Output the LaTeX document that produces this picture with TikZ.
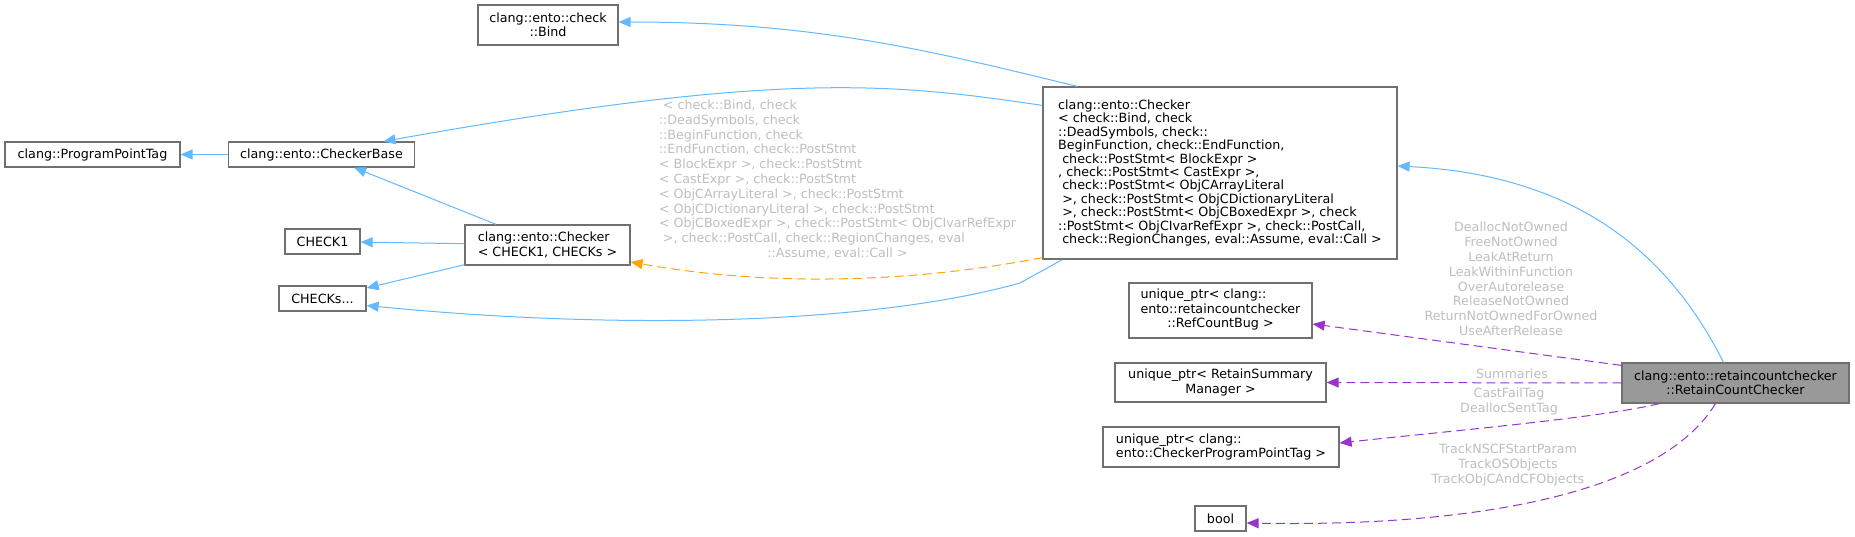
\documentclass[tikz,border=0pt]{standalone}
\usepackage{fontspec}
\setmainfont{DejaVu Sans}
\usetikzlibrary{arrows.meta,positioning,calc}
\definecolor{boxgray}{HTML}{707070}
\definecolor{curgray}{HTML}{999999}
\definecolor{inhblue}{HTML}{63B8FF}
\definecolor{usepurple}{HTML}{9A32CD}
\definecolor{tmplorange}{HTML}{FFA500}
\definecolor{lblgray}{HTML}{BEBEBE}
\newcommand{\lastc}[1]{\multicolumn{1}{@{}c@{}}{#1}}

\begin{document}
\begin{tikzpicture}[x=1pt,y=-1pt,
  every node/.style={font=\fontsize{12.7}{14.5}\selectfont},
  cls/.style={draw=boxgray,fill=white,line width=1.2pt,inner sep=0pt},
  cur/.style={cls,fill=curgray},
  lbl/.style={text=lblgray,inner sep=0pt,align=center,font=\fontsize{12.7}{14.8}\selectfont},
  inh/.style={draw=inhblue,line width=1pt,-{Triangle[length=12pt,width=10pt]}},
  use/.style={draw=usepurple,line width=1pt,dash pattern=on 9pt off 5pt,-{Triangle[length=12pt,width=10pt,fill=usepurple]}},
  tmpl/.style={draw=tmplorange,line width=1pt,dash pattern=on 9pt off 5pt,-{Triangle[length=12pt,width=10pt,fill=tmplorange]}}]
\useasboundingbox (0,0) rectangle (1855,537);
\node[cls,minimum width=175pt,minimum height=25pt] (ppt) at (92.5,154.5) {clang::ProgramPointTag};
\node[cls,minimum width=186pt,minimum height=25pt] (base) at (321.5,154.5) {clang::ento::CheckerBase};
\node[cls,minimum width=140pt,minimum height=40pt,align=center] (bind) at (548,25) {clang::ento::check\\::Bind};
\node[cls,minimum width=75pt,minimum height=25pt] (check1) at (322.5,241.5) {CHECK1};
\node[cls,minimum width=87pt,minimum height=25pt] (checks) at (322.5,298.5) {CHECKs...};
\node[cls,minimum width=165pt,minimum height=40pt,align=left] (cc) at (547.5,245) {clang::ento::Checker\\< CHECK1, CHECKs >};
\node[cls,minimum width=354pt,minimum height=172pt,align=left,font=\fontsize{12.7}{13.4}\selectfont] (big) at (1220,173) {clang::ento::Checker\\< check::Bind, check\\::DeadSymbols, check::\\BeginFunction, check::EndFunction,\\\ check::PostStmt< BlockExpr >\\, check::PostStmt< CastExpr >,\\\ check::PostStmt< ObjCArrayLiteral\\\ >, check::PostStmt< ObjCDictionaryLiteral\\\ >, check::PostStmt< ObjCBoxedExpr >, check\\::PostStmt< ObjCIvarRefExpr >, check::PostCall,\\\ check::RegionChanges, eval::Assume, eval::Call >};
\node[cls,minimum width=183pt,minimum height=55pt] (refbug) at (1220.5,310.5) {\begin{tabular}{@{}l@{}}unique\_ptr< clang::\\ento::retaincountchecker\\\lastc{::RefCountBug >}\end{tabular}};
\node[cls,minimum width=211pt,minimum height=39pt,align=center] (summ) at (1220.5,382.5) {unique\_ptr< RetainSummary\\Manager >};
\node[cls,minimum width=236pt,minimum height=40pt,align=left] (cppt) at (1221,447) {unique\_ptr< clang::\\ento::CheckerProgramPointTag >};
\node[cls,minimum width=51pt,minimum height=25pt] (bool) at (1220.5,518.5) {bool};
\node[cur,minimum width=227pt,minimum height=40pt,align=center] (rcc) at (1735.5,383) {clang::ento::retaincountchecker\\::RetainCountChecker};
% inheritance
\draw[inh] (base) -- (ppt);
\draw[inh] (cc) -- (base);
\draw[inh] (cc) -- (check1);
\draw[inh] (cc) -- (checks);
\draw[inh] ([xshift=35pt]big.north west) .. controls (935,52) and (820,22) .. ([yshift=3pt]bind.east);
\draw[inh] ([yshift=-19pt]big.north west) .. controls (893,83.5) and (784,70) .. ([xshift=62pt]base.north);
\draw[inh] ([xshift=20pt]big.south west) -- (1020,283) .. controls (870,325) and (616,330) .. ([yshift=-7pt]checks.east);
\draw[inh] ([xshift=-12pt]rcc.north) .. controls (1669,254) and (1577,175) .. ([yshift=7pt]big.east);
% template instance
\draw[tmpl] ([yshift=2pt]big.south west) .. controls (900,285) and (760,285) .. ([yshift=-17pt]cc.east);
\node[lbl] (tlbl) at (837.5,180.5) {\begin{tabular}{@{}l@{}}\ < check::Bind, check\\::DeadSymbols, check\\::BeginFunction, check\\::EndFunction, check::PostStmt\\< BlockExpr >, check::PostStmt\\< CastExpr >, check::PostStmt\\< ObjCArrayLiteral >, check::PostStmt\\< ObjCDictionaryLiteral >, check::PostStmt\\< ObjCBoxedExpr >, check::PostStmt< ObjCIvarRefExpr\\\ >, check::PostCall, check::RegionChanges, eval\\\lastc{::Assume, eval::Call >}\end{tabular}};
% usage
\draw[use] ([yshift=-3pt]rcc.north west) -- ([yshift=-13.5pt]refbug.east);
\node[lbl] (ulbl1) at (1511,279) {DeallocNotOwned\\FreeNotOwned\\LeakAtReturn\\LeakWithinFunction\\OverAutorelease\\ReleaseNotOwned\\ReturnNotOwnedForOwned\\UseAfterRelease};
\draw[use] (rcc.west) -- (summ.east);
\node[lbl] (ulbl2) at (1512,374) {Summaries};
\draw[use] ([xshift=38pt]rcc.south west) .. controls (1600,418) and (1440,432) .. ([yshift=4pt]cppt.east);
\node[lbl] (ulbl3) at (1509,401.5) {CastFailTag\\DeallocSentTag};
\draw[use] ([xshift=-20pt]rcc.south) .. controls (1660,495) and (1470,527) .. ([yshift=-4.5pt]bool.east);
\node[lbl] (ulbl4) at (1508,465) {TrackNSCFStartParam\\TrackOSObjects\\TrackObjCAndCFObjects};
\end{tikzpicture}
\end{document}
